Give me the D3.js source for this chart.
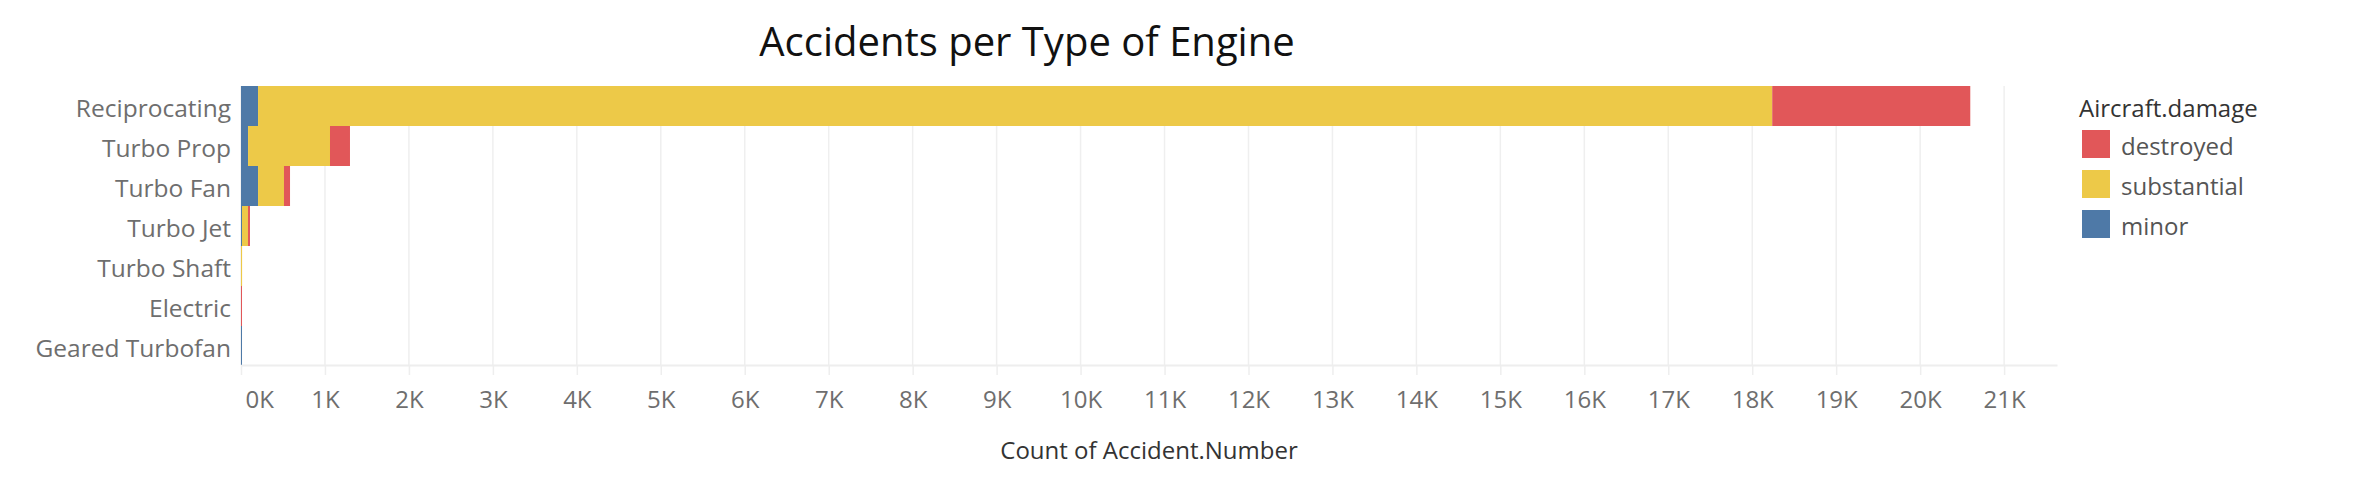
<!DOCTYPE html>
<html>
<head>
<meta charset="utf-8">
<script src="https://cdn.jsdelivr.net/npm/d3@7"></script>
<style>
  html, body { margin: 0; padding: 0; background: #fff; }
  svg { display: block; font-family: "Open Sans", "Noto Sans", sans-serif; }
</style>
</head>
<body>
<svg id="chart" width="2356" height="480"></svg>
<script>
// ---- data ----
const categories = ["Reciprocating", "Turbo Prop", "Turbo Fan", "Turbo Jet", "Turbo Shaft", "Electric", "Geared Turbofan"];
const damageTypes = ["minor", "substantial", "destroyed"];   // stacking order left -> right
const legendOrder = ["destroyed", "substantial", "minor"];
const minorValues       = [203, 84, 203, 12, 0, 0, 12];
const substantialValues = [18035, 976, 309, 71, 13, 0, 0];
const destroyedValues   = [2359, 238, 72, 24, 0, 12, 0];
const xTicks = [0,1000,2000,3000,4000,5000,6000,7000,8000,9000,10000,11000,12000,13000,14000,15000,16000,17000,18000,19000,20000,21000];
const titleText = "Accidents per Type of Engine";
const xAxisTitle = "Count of Accident.Number";
const legendTitle = "Aircraft.damage";

const colors = { destroyed: "#e15759", substantial: "#edc948", minor: "#4e79a7" };

// ---- layout ----
const svg = d3.select("#chart");
const plotLeft = 241, plotRight = 2057, plotTop = 86, plotBottom = 366;

const rows = categories.map((c, i) => ({
  category: c,
  minor: minorValues[i],
  substantial: substantialValues[i],
  destroyed: destroyedValues[i]
}));

const x = d3.scaleLinear().domain([0, 21630]).range([plotLeft, plotRight]);
const y = d3.scaleBand().domain(categories).range([plotTop, plotBottom]).padding(0);

// gridlines
svg.append("g").selectAll("line").data(xTicks).join("line")
  .attr("x1", d => x(d)).attr("x2", d => x(d))
  .attr("y1", plotTop).attr("y2", plotBottom - 1)
  .attr("stroke", "#efefef").attr("stroke-width", 1.5);

// bars
const stack = d3.stack().keys(damageTypes);
const series = stack(rows);
svg.append("g").selectAll("g").data(series).join("g")
  .attr("fill", s => colors[s.key])
  .selectAll("rect").data(s => s).join("rect")
  .attr("x", d => x(d[0]))
  .attr("width", d => Math.max(0, x(d[1]) - x(d[0])))
  .attr("y", d => y(d.data.category))
  .attr("height", y.bandwidth());

// x axis
const xAxis = d3.axisBottom(x).tickValues(xTicks).tickFormat(d => (d / 1000) + "K")
  .tickSizeInner(10).tickSizeOuter(0).tickPadding(16);
const gx = svg.append("g").attr("transform", `translate(0,${plotBottom - 1})`).call(xAxis);
gx.select(".domain").attr("stroke", "#eeeeee").attr("stroke-width", 2);
gx.selectAll(".tick line").attr("stroke", "#eeeeee").attr("stroke-width", 1.5);
gx.selectAll(".tick text")
  .attr("fill", "#6e6e6e").attr("font-size", 24)
  .attr("font-family", "'Open Sans', sans-serif");
gx.selectAll(".tick text").filter(d => d === 0)
  .attr("text-anchor", "start").attr("x", 4);

// y labels
svg.append("g").selectAll("text").data(categories).join("text")
  .attr("x", 231)
  .attr("y", d => y(d) + y.bandwidth() / 2 + 11)
  .attr("text-anchor", "end")
  .attr("fill", "#6e6e6e").attr("font-size", 24.5)
  .text(d => d);

// title
svg.append("text")
  .attr("x", 1027).attr("y", 56)
  .attr("text-anchor", "middle")
  .attr("font-size", 40).attr("fill", "#111")
  .text(titleText);

// x axis title
svg.append("text")
  .attr("x", (plotLeft + plotRight) / 2).attr("y", 459)
  .attr("text-anchor", "middle")
  .attr("font-size", 24).attr("fill", "#333")
  .text(xAxisTitle);

// legend
const lg = svg.append("g");
lg.append("text").attr("x", 2079).attr("y", 117)
  .attr("font-size", 24).attr("fill", "#333").text(legendTitle);
const items = lg.selectAll("g.item").data(legendOrder).join("g").attr("class", "item")
  .attr("transform", (d, i) => `translate(2082,${130 + i * 40})`);
items.append("rect").attr("width", 28).attr("height", 28).attr("fill", d => colors[d]);
items.append("text").attr("x", 39).attr("y", 25)
  .attr("font-size", 24).attr("fill", "#555").text(d => d);
</script>
</body>
</html>
